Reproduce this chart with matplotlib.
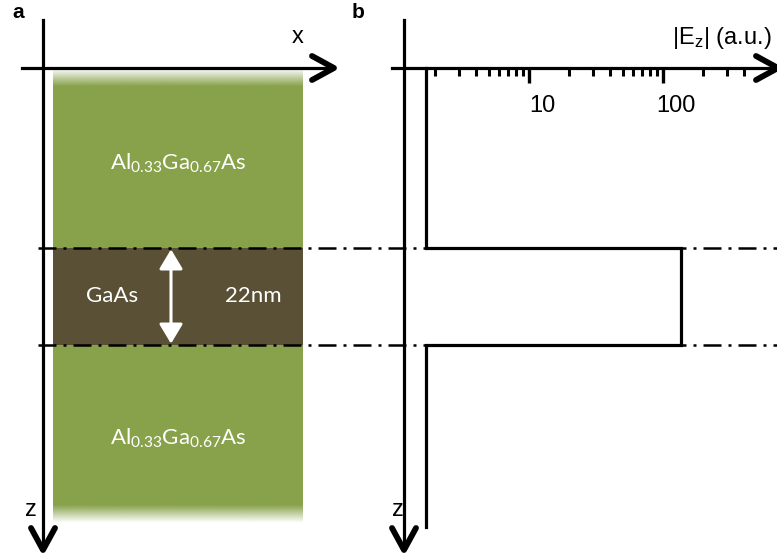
"""Schematic: AlGaAs/GaAs/AlGaAs slab (a) and the |E_z| profile across it on a log axis (b)."""
import numpy as np
import matplotlib

matplotlib.use("Agg")
import matplotlib.pyplot as plt
from matplotlib.transforms import ScaledTranslation

W, H, DPI = 777, 557, 100

# layer stack, z in nm (0 = top of the GaAs well)
WELL_TOP = 0.0
WELL_THICK = 22.0
CLAD_TOP = -40.8          # cladding starts right under the x axis
CLAD_BOTTOM = 62.3

# field magnitude profile |E_z| (a.u.) along z
PROFILE_Z = [-40.8, 0.0, 0.0, 22.0, 22.0, 63.3]
PROFILE_E = [1.70, 1.70, 136.0, 136.0, 1.70, 1.70]

MAJOR_TICKS = [10, 100]
MAJOR_LABELS = ["10", "100"]
MINOR_TICKS = [2, 3, 4, 5, 6, 7, 8, 9, 20, 30, 40, 50, 60, 70, 80, 90, 200, 300, 400]

GREEN = "#88a24b"
BROWN = "#5a5036"
LW = 2.3
WHITE_FONT = ["Lato", "DejaVu Sans"]

# pixel <-> z mapping
PX_PER_NM = 97.0 / 22.0
Z0_PX = 248.0


def z_of(py):
    return (py - Z0_PX) / PX_PER_NM


plt.rcParams["font.family"] = ["Liberation Sans", "DejaVu Sans"]
fig = plt.figure(figsize=(W / DPI, H / DPI), dpi=DPI)

# overlay axes: x in pixels, y in nm
ax = fig.add_axes([0, 0, 1, 1])
ax.set_xlim(0, W)
ax.set_ylim(z_of(H), z_of(0))
ax.axis("off")

# ---- panel a: layer stack -------------------------------------------------
zz = np.linspace(CLAD_TOP, CLAD_BOTTOM, 600)
fade = 4.0
alpha = np.clip((zz - CLAD_TOP) / fade, 0, 1) * np.clip((CLAD_BOTTOM - zz) / fade, 0, 1)
rgba = np.zeros((len(zz), 2, 4))
rgba[..., :3] = matplotlib.colors.to_rgb(GREEN)
rgba[..., 3] = alpha[:, None]
ax.imshow(rgba, extent=(53, 303, CLAD_BOTTOM, CLAD_TOP), aspect="auto",
          interpolation="bilinear", zorder=1)
ax.fill_between([53, 303], WELL_TOP, WELL_TOP + WELL_THICK, color=BROWN, lw=0, zorder=2)

al_label = r"Al$\mathregular{_{0.33}}$Ga$\mathregular{_{0.67}}$As"
for zc in ((CLAD_TOP + WELL_TOP) / 2 + 1.1, (WELL_TOP + WELL_THICK + CLAD_BOTTOM) / 2 + 1.0):
    ax.text(178, zc, al_label, color="white", fontsize=16, family=WHITE_FONT,
            ha="center", va="center", zorder=5)
zmid = WELL_TOP + WELL_THICK / 2
ax.text(112, zmid, "GaAs", color="white", fontsize=16, family=WHITE_FONT,
        ha="center", va="center", zorder=5)
ax.text(253, zmid, "22nm", color="white", fontsize=16, family=WHITE_FONT,
        ha="center", va="center", zorder=5)
ax.annotate("", xy=(171, WELL_TOP + 0.3), xytext=(171, WELL_TOP + WELL_THICK - 0.3),
            arrowprops=dict(arrowstyle="<|-|>, head_length=0.6, head_width=0.36",
                            mutation_scale=20, color="white", lw=2.2,
                            shrinkA=0, shrinkB=0), zorder=5)

# layer boundaries across both panels
for zb in (WELL_TOP, WELL_TOP + WELL_THICK):
    ax.plot([38, W], [zb, zb], color="black", lw=1.8,
            ls=(0, (7.2, 2.8, 1.2, 2.8)), zorder=4)


def arrow_right(x_start, x_tip, y):
    ax.plot([x_start, x_tip - 2], [z_of(y)] * 2, color="black", lw=LW, zorder=6)
    ax.plot([x_tip - 22, x_tip, x_tip - 22], [z_of(y - 12), z_of(y), z_of(y + 12)],
            color="black", lw=4.2, solid_capstyle="round", zorder=6, clip_on=False)


def arrow_down(x, y_start, y_tip):
    ax.plot([x, x], [z_of(y_start), z_of(y_tip - 2)], color="black", lw=LW, zorder=6)
    ax.plot([x - 12, x, x + 12], [z_of(y_tip - 22), z_of(y_tip), z_of(y_tip - 22)],
            color="black", lw=4.2, solid_capstyle="round", zorder=6, clip_on=False)


# panel a axes
arrow_right(22, 334, 68)
arrow_down(43, 20, 550)
ax.text(298, z_of(37), "x", fontsize=17, ha="center", va="center")
ax.text(31, z_of(510), "z", fontsize=17, ha="center", va="center")
ax.text(18, z_of(12), "a", fontsize=15, fontweight="bold", ha="center", va="center")

# panel b axes
arrow_right(392, 778, 68)
arrow_down(404, 20, 550)
ax.text(398, z_of(510), "z", fontsize=17, ha="center", va="center")
ax.text(358, z_of(12), "b", fontsize=15, fontweight="bold", ha="center", va="center")

# ---- panel b: |E_z| profile on log axis -------------------------------------
axb = fig.add_axes([395 / W, 0, (W - 395) / W, (H - 68) / H])
axb.set_xscale("log")
axb.set_xlim(1, 10 ** ((W - 395) / 134.0))
axb.set_ylim(z_of(H), z_of(68))
axb.patch.set_alpha(0)
for s in axb.spines.values():
    s.set_visible(False)
axb.plot(PROFILE_E, PROFILE_Z, color="black", lw=LW, clip_on=False,
         solid_joinstyle="miter", zorder=5)
axb.set_yticks([])
axb.xaxis.set_ticks_position("top")
axb.set_xticks(MAJOR_TICKS)
axb.set_xticks(MINOR_TICKS, minor=True)
axb.xaxis.set_minor_formatter(matplotlib.ticker.NullFormatter())
axb.set_xticklabels([])
axb.tick_params(axis="x", which="major", direction="in", length=11, width=2.4)
axb.tick_params(axis="x", which="minor", direction="in", length=6, width=2.2)
off = ScaledTranslation(13 / DPI, 0, fig.dpi_scale_trans)
for v, lab in zip(MAJOR_TICKS, MAJOR_LABELS):
    axb.text(v, z_of(106), lab, fontsize=17, ha="center", va="center",
             transform=axb.transData + off)
ax.text(722, z_of(38), r"|E$\mathregular{_z}$| (a.u.)", fontsize=17, ha="center", va="center")

fig.savefig("out.png", dpi=DPI)
